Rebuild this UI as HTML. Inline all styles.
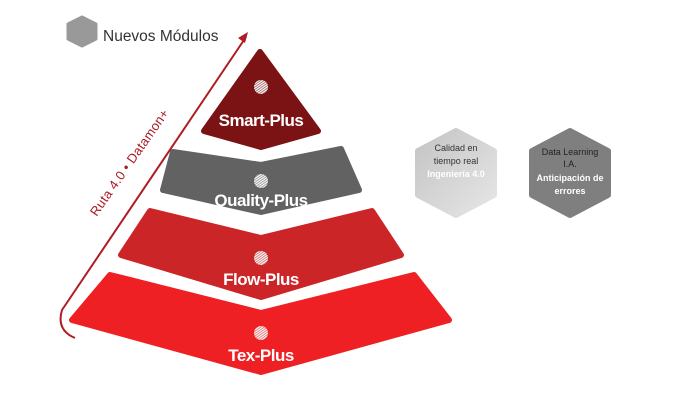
<!DOCTYPE html>
<html><head><meta charset="utf-8"><style>
html,body{margin:0;padding:0;background:#fff;}
svg{display:block;}
</style></head><body>
<svg width="676" height="408" viewBox="0 0 676 408" xmlns="http://www.w3.org/2000/svg">
<defs>
<linearGradient id="g1" x1="0" y1="0" x2="1" y2="1">
<stop offset="0" stop-color="#c4c4c4"/><stop offset="1" stop-color="#e6e6e6"/>
</linearGradient>
<pattern id="hatch" width="2" height="2" patternUnits="userSpaceOnUse" patternTransform="rotate(-35)">
<rect width="2" height="1" fill="#fff"/><rect y="1" width="2" height="1" fill="#ddd" opacity="0.5"/>
</pattern>
</defs>
<!-- legend -->
<polygon points="82,17 96,24 96,39 82,46 68,39 68,24" fill="#999" stroke="#999" stroke-width="3" stroke-linejoin="round"/>
<text x="103" y="41" font-family="Liberation Sans, sans-serif" font-size="15.5" fill="#333">Nuevos Módulos</text>

<!-- arrow -->
<path d="M75,338 Q56,330 62,310 L246,37" fill="none" stroke="#b01c24" stroke-width="2"/>
<polygon points="248,32 238,38 245,43" fill="#b01c24"/>
<text transform="translate(133,165) rotate(-55)" text-anchor="middle" font-family="Liberation Sans, sans-serif" font-size="13" fill="#a71c24" letter-spacing="0.3">Ruta 4.0 • Datamon+</text>

<!-- pyramid -->
<g stroke-linejoin="round">
<polygon points="260,52 318,131 261,147 204,131" fill="#7b1214" stroke="#7b1214" stroke-width="6"/>
<polygon points="173,152 261,165 341,149 359,190 261,212 163,190" fill="#626262" stroke="#626262" stroke-width="6"/>
<polygon points="150,211 261,238 372,211 401,255 261,297 121,255" fill="#cb2528" stroke="#cb2528" stroke-width="6"/>
<polygon points="110,275 261,313 414,275 449,320 261,372 72,320" fill="#ee2024" stroke="#ee2024" stroke-width="6"/>
</g>
<g fill="url(#hatch)">
<circle cx="261" cy="87" r="7"/>
<circle cx="261" cy="181" r="7"/>
<circle cx="261" cy="258" r="7"/>
<circle cx="261" cy="333" r="7"/>
</g>
<g font-family="Liberation Sans, sans-serif" font-weight="bold" font-size="17" fill="#fff" text-anchor="middle" letter-spacing="-0.5">
<text x="261" y="126">Smart-Plus</text>
<text x="261" y="206">Quality-Plus</text>
<text x="261" y="285">Flow-Plus</text>
<text x="261" y="361">Tex-Plus</text>
</g>

<!-- hexagons -->
<polygon points="456,131 494,151 494,195 456,215 418,195 418,151" fill="url(#g1)" stroke="url(#g1)" stroke-width="6" stroke-linejoin="round"/>
<polygon points="570,131 608,151 608,195 570,215 532,195 532,151" fill="#7f7f7f" stroke="#7f7f7f" stroke-width="6" stroke-linejoin="round"/>
<g font-family="Liberation Sans, sans-serif" font-size="9" text-anchor="middle">
<text x="456" y="151" fill="#333">Calidad en</text>
<text x="456" y="164" fill="#333">tiempo real</text>
<text x="456" y="177" fill="#fff" font-weight="bold">Ingeniería 4.0</text>
<text x="570" y="155" fill="#222">Data Learning</text>
<text x="570" y="167" fill="#222">I.A.</text>
<text x="570" y="181" fill="#fff" font-weight="bold">Anticipación de</text>
<text x="570" y="194" fill="#fff" font-weight="bold">errores</text>
</g>
</svg>
</body></html>
